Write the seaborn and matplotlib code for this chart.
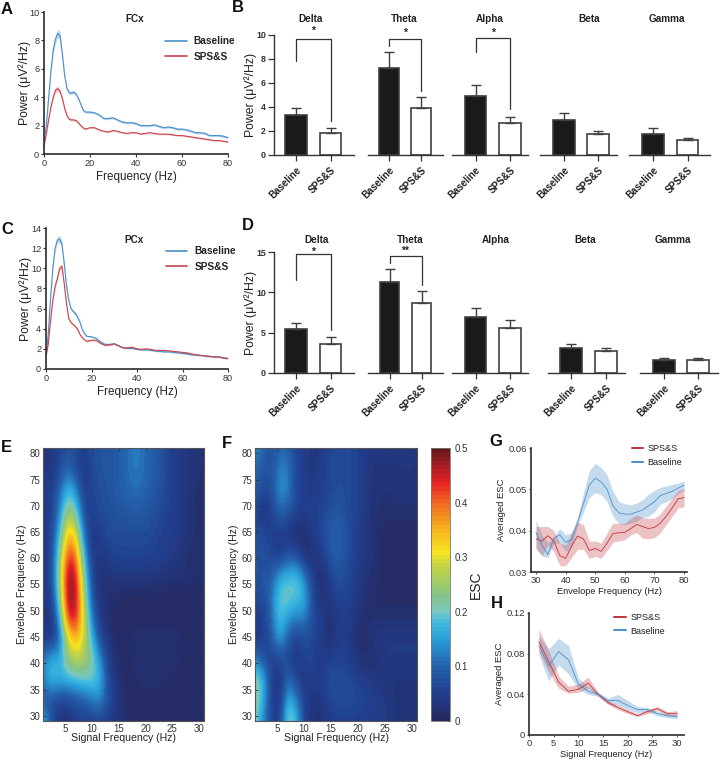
import matplotlib
matplotlib.use("Agg")
import matplotlib.pyplot as plt
from matplotlib.colors import LinearSegmentedColormap
import numpy as np
import pandas as pd
import seaborn as sns

sns.set_theme(style="ticks")
plt.rcParams["font.family"] = ["Liberation Sans", "DejaVu Sans"]
plt.rcParams["axes.edgecolor"] = "#333333"
plt.rcParams["text.color"] = "#222222"
plt.rcParams["xtick.color"] = "#333333"
plt.rcParams["ytick.color"] = "#333333"
plt.rcParams["axes.labelcolor"] = "#222222"

# ---------- data ----------
COND = ["Baseline", "SPS&S"]
BANDS = ["Delta", "Theta", "Alpha", "Beta", "Gamma"]

PSD_F = [0,1,2,3,4,5,6,7,8,9,10,11,12,13,14,15,16,17,18,20,22,24,26,28,30,32,34,36,38,40,42,44,46,48,50,52,54,56,58,60,62,64,66,68,70,72,74,76,78,80]
A_BASE = [0.9,2.0,3.9,5.8,7.3,8.1,8.5,8.3,7.0,5.5,4.6,4.3,4.3,4.35,4.2,3.9,3.5,3.1,2.95,2.95,2.9,2.75,2.5,2.5,2.55,2.4,2.25,2.2,2.2,2.15,2.0,2.0,2.0,2.05,1.95,1.85,1.9,1.85,1.75,1.75,1.7,1.6,1.5,1.5,1.45,1.3,1.3,1.3,1.25,1.15]
A_SPS = [0.55,1.4,2.4,3.3,4.0,4.5,4.6,4.4,3.9,3.2,2.7,2.45,2.4,2.4,2.35,2.2,2.0,1.85,1.75,1.85,1.85,1.7,1.6,1.55,1.65,1.6,1.5,1.45,1.5,1.5,1.4,1.45,1.5,1.45,1.4,1.4,1.4,1.35,1.3,1.3,1.25,1.2,1.15,1.1,1.05,1.0,.95,.95,.9,.85]
C_BASE = [1.3,3.5,7,10,12,12.8,12.9,12.4,10.5,8.3,6.8,6.0,5.7,5.5,5.1,4.6,3.9,3.5,3.25,3.2,3.05,2.7,2.45,2.45,2.5,2.3,2.1,2.05,2.05,1.95,1.9,1.9,1.85,1.8,1.75,1.7,1.7,1.65,1.6,1.55,1.5,1.4,1.4,1.35,1.3,1.25,1.2,1.2,1.1,1.05]
C_SPS = [1.2,2.5,4.8,6.8,8.2,9.0,10.0,10.2,8.5,6.5,5.0,4.6,4.4,4.2,3.9,3.4,3.1,2.9,2.75,2.85,2.85,2.55,2.35,2.4,2.5,2.3,2.1,2.1,2.15,2.0,1.95,2.0,1.95,1.85,1.85,1.85,1.8,1.75,1.7,1.65,1.6,1.5,1.4,1.35,1.3,1.25,1.2,1.2,1.1,1.05]
A_SEM_B = [.05,.1,.15,.2,.25,.3,.3,.28,.2,.15,.12,.12,.12,.12,.1,.1,.08,.08] + [.08] * 32
A_SEM_S = [.05,.08,.1,.12,.15,.18,.18,.15,.12,.1,.1,.08,.08,.08,.08,.07,.07,.07] + [.05] * 32
C_SEM_B = [.05,.1,.15,.2,.3,.35,.35,.3,.2,.2,.15,.15,.15,.15,.12,.1,.1,.08] + [.07] * 32
C_SEM_S = [.05,.1,.12,.15,.2,.2,.25,.25,.2,.15,.12,.12,.12,.1,.1,.08,.08,.08] + [.08] * 32

B_MEAN = [[3.35,1.85],[7.25,3.95],[4.9,2.7],[2.9,1.75],[1.75,1.25]]
B_TOP = [[3.9,2.25],[8.55,4.8],[5.8,3.2],[3.5,2.0],[2.25,1.4]]
D_MEAN = [[5.4,3.65],[11.3,8.65],[7.0,5.6],[3.1,2.75],[1.6,1.65]]
D_TOP = [[6.25,4.45],[12.85,10.15],[8.0,6.55],[3.55,3.15],[1.85,1.9]]

G_F = [30,32,34,36,38,40,42,44,46,48,50,52,54,56,58,60,62,64,66,68,70,72,74,76,78,80]
G_BASE = [.0395,.0365,.0342,.0382,.039,.0372,.0378,.042,.0465,.051,.0527,.0518,.05,.046,.0443,.044,.044,.0445,.045,.046,.047,.0485,.049,.0495,.0503,.051]
G_BASE_UP = [.0425,.039,.037,.0385,.0405,.039,.0395,.043,.049,.0545,.0563,.0553,.0535,.0495,.047,.0465,.0462,.0467,.0475,.0488,.0497,.0505,.0508,.0512,.0515,.052]
G_BASE_LO = [.036,.0338,.0335,.037,.037,.035,.036,.041,.0445,.048,.0492,.0487,.047,.0435,.0418,.0415,.0418,.0423,.0432,.0435,.0445,.0465,.047,.0478,.049,.0498]
G_SPS = [.038,.0375,.0388,.0375,.034,.0333,.0362,.0387,.038,.0352,.0357,.035,.037,.0393,.0395,.0396,.0405,.0415,.041,.0405,.0408,.0418,.0435,.0455,.0477,.048]
G_SPS_UP = [.041,.041,.041,.04,.037,.0365,.0395,.042,.0415,.0375,.0375,.037,.0395,.0418,.0418,.0418,.043,.0438,.0432,.043,.043,.0442,.046,.048,.0497,.0502]
G_SPS_LO = [.0355,.034,.0365,.035,.0315,.0315,.0335,.0355,.0355,.0333,.0338,.0333,.0352,.0372,.0375,.0378,.039,.0395,.0382,.038,.0383,.0395,.0415,.0435,.0455,.0458]

H_F = [2,4,6,8,10,12,14,16,18,20,22,24,26,28,30]
H_SPS = [.092,.072,.052,.043,.045,.051,.04,.032,.027,.023,.019,.023,.026,.021,.021]
H_SPS_UP = [.104,.083,.058,.048,.05,.057,.042,.034,.029,.025,.021,.025,.028,.023,.024]
H_SPS_LO = [.082,.062,.046,.041,.042,.046,.038,.03,.025,.021,.018,.021,.024,.019,.019]
H_BASE = [.088,.068,.082,.074,.05,.043,.04,.034,.034,.029,.025,.025,.021,.019,.018]
H_BASE_UP = [.097,.085,.095,.088,.056,.047,.042,.036,.04,.034,.028,.027,.023,.021,.02]
H_BASE_LO = [.079,.053,.069,.06,.045,.04,.038,.031,.029,.025,.022,.023,.019,.017,.016]

# rows run from 81 Hz down to 29 Hz, columns from 1 Hz to 31 Hz
E_ESC = [
 [.04,.03,.06,.08,.07,.05,.07,.08,.08,.09,.10,.12,.12,.10,.09,.07,.05,.04,.03,.03,.02],
 [.04,.03,.07,.10,.07,.03,.06,.08,.08,.09,.10,.12,.12,.10,.09,.07,.05,.04,.03,.03,.02],
 [.04,.05,.10,.18,.14,.05,.06,.07,.08,.09,.10,.11,.11,.10,.08,.07,.05,.04,.03,.02,.02],
 [.04,.05,.13,.25,.21,.07,.05,.07,.07,.08,.08,.09,.09,.08,.07,.06,.05,.04,.03,.02,.02],
 [.04,.06,.17,.34,.31,.11,.03,.05,.07,.07,.07,.07,.07,.07,.06,.05,.05,.04,.03,.02,.02],
 [.04,.06,.22,.42,.40,.17,.04,.04,.05,.06,.06,.06,.06,.06,.05,.05,.04,.03,.02,.02,.02],
 [.04,.06,.25,.48,.46,.23,.06,.02,.03,.04,.04,.04,.04,.04,.04,.03,.03,.03,.02,.02,.02],
 [.04,.05,.22,.49,.48,.27,.08,.03,.02,.02,.01,.01,.01,.01,.01,.01,.01,.01,.01,.01,.01],
 [.03,.03,.16,.45,.46,.30,.12,.04,.02,.01,.01,.01,.01,.01,.01,.01,.01,.01,.01,.01,.01],
 [.04,.03,.09,.30,.37,.29,.17,.07,.03,.01,.01,.02,.02,.02,.02,.02,.02,.02,.01,.01,.01],
 [.12,.17,.16,.24,.28,.27,.22,.14,.05,.02,.01,.02,.02,.02,.02,.02,.02,.02,.01,.01,.01],
 [.13,.19,.17,.18,.19,.20,.20,.18,.07,.03,.01,.01,.02,.02,.02,.02,.01,.01,.01,.01,.01],
 [.08,.07,.06,.06,.08,.09,.12,.14,.08,.04,.02,.01,.01,.01,.01,.01,.01,.01,.01,.01,.01],
 [.18,.08,.03,.02,.05,.05,.05,.05,.05,.03,.02,.01,.01,.01,.01,.01,.01,.01,.01,.01,.01],
]
F_ESC = [
 [.14,.10,.07,.10,.10,.06,.05,.03,.04,.06,.07,.07,.06,.05,.04,.03,.04,.03,.04,.04,.03],
 [.11,.08,.08,.13,.12,.06,.05,.03,.05,.06,.07,.07,.06,.05,.03,.03,.03,.03,.03,.03,.03],
 [.09,.07,.07,.15,.13,.06,.05,.04,.05,.06,.07,.07,.06,.05,.03,.03,.02,.03,.03,.03,.03],
 [.07,.015,.06,.10,.09,.06,.05,.05,.06,.07,.09,.07,.06,.05,.03,.02,.02,.02,.02,.02,.02],
 [.07,.07,.05,.05,.04,.012,.02,.05,.06,.09,.10,.08,.06,.04,.03,.02,.01,.01,.01,.01,.01],
 [.08,.07,.06,.03,.07,.06,.02,.02,.05,.08,.10,.08,.06,.04,.03,.02,.01,.01,.01,.01,.01],
 [.08,.08,.09,.15,.17,.18,.12,.05,.01,.05,.08,.07,.05,.04,.02,.02,.01,.01,.01,.01,.01],
 [.07,.07,.12,.20,.21,.20,.17,.07,.02,.04,.06,.06,.05,.03,.02,.01,.01,.01,.01,.01,.01],
 [.05,.05,.11,.20,.15,.13,.14,.07,.05,.02,.04,.05,.04,.02,.02,.02,.02,.02,.02,.02,.02],
 [.04,.05,.09,.17,.09,.06,.07,.06,.05,.015,.04,.05,.03,.012,.03,.04,.04,.04,.04,.04,.04],
 [.12,.07,.05,.07,.06,.03,.06,.06,.04,.05,.06,.05,.04,.02,.02,.03,.04,.04,.04,.04,.04],
 [.23,.17,.05,.03,.11,.06,.03,.05,.04,.07,.07,.07,.06,.05,.04,.03,.03,.03,.03,.03,.03],
 [.23,.16,.05,.03,.18,.13,.05,.03,.04,.06,.07,.07,.07,.06,.06,.05,.04,.03,.03,.03,.03],
 [.21,.13,.05,.05,.23,.18,.06,.03,.02,.04,.05,.05,.05,.05,.04,.04,.04,.03,.03,.03,.03],
]

# ---------- layout helpers ----------
W, H = 723, 760
fig = plt.figure(figsize=(W / 100, H / 100), dpi=100, facecolor="white")

def px_axes(l, t, r, b):
    return fig.add_axes([l / W, 1 - b / H, (r - l) / W, (b - t) / H])

def px_text(x, y, s, **kw):
    kw.setdefault("ha", "center")
    kw.setdefault("va", "center")
    fig.text(x / W, 1 - y / H, s, **kw)

BLUE, RED = "#4a8fcb", "#c8434b"
BLUE_B, RED_B = "#a9cbe8", "#eab0b4"
LBL = 8.8
TK = 6.6

for s, x, y in [("A", 7, 9), ("B", 238, 8), ("C", 7, 230), ("D", 248, 226),
                ("E", 6, 447), ("F", 227, 443), ("G", 496, 441), ("H", 497, 603)]:
    px_text(x, y, s, fontsize=12, fontweight="bold", color="#111111")

# ---------- PSD panels ----------
def psd_panel(box, base, sps, sem_b, sem_s, ymax, yticks, title, title_xy, leg_anchor, ylabelpad):
    ax = px_axes(*box)
    df = pd.DataFrame({"Frequency": PSD_F * 2, "Power": base + sps,
                       "Group": [COND[0]] * len(base) + [COND[1]] * len(sps)})
    ax.fill_between(PSD_F, np.array(base) - sem_b, np.array(base) + sem_b, color=BLUE_B, lw=0, alpha=.75)
    ax.fill_between(PSD_F, np.array(sps) - sem_s, np.array(sps) + sem_s, color=RED_B, lw=0, alpha=.75)
    sns.lineplot(data=df, x="Frequency", y="Power", hue="Group", palette=[BLUE, RED],
                 errorbar=None, estimator=None, lw=.8, ax=ax)
    ax.set_xlim(0, 80)
    ax.set_ylim(0, ymax)
    ax.set_xticks([0, 20, 40, 60, 80])
    ax.set_yticks(yticks)
    ax.tick_params(labelsize=TK, length=2, width=.8, pad=1.5)
    ax.set_xlabel("Frequency (Hz)", fontsize=8.4, labelpad=2.5)
    ax.set_ylabel("Power (μV²/Hz)", fontsize=LBL, labelpad=ylabelpad)
    sns.despine(ax=ax)
    leg = ax.legend(loc="upper left", bbox_to_anchor=leg_anchor, frameon=False, fontsize=7.3,
                    handlelength=2.1, handletextpad=.7, labelspacing=.55, borderpad=0, borderaxespad=0)
    for t in leg.get_texts():
        t.set_fontweight("bold")
    for line in leg.get_lines():
        line.set_linewidth(1.2)
    px_text(*title_xy, title, fontsize=7.2, fontweight="bold")

psd_panel((44, 12, 228, 154), A_BASE, A_SPS, np.array(A_SEM_B), np.array(A_SEM_S), 10,
          [0, 2, 4, 6, 8, 10], "FCx", (135, 19), (.66, .83), -1.5)
psd_panel((46, 228, 228, 369), C_BASE, C_SPS, np.array(C_SEM_B), np.array(C_SEM_S), 14,
          [0, 2, 4, 6, 8, 10, 12, 14], "PCx", (134, 240), (.66, .87), -.5)

# ---------- bar panels ----------
def bar_group(left, right, c0, c1, top, bottom, ymax, yticks, mean, upper, title, title_xy, first, bracket, star):
    ax = px_axes(left, top, right, bottom)
    df = pd.DataFrame({"Group": COND, "Power": mean})
    sns.barplot(data=df, x="Group", y="Power", hue="Group", palette=["#1a1a18", "white"],
                edgecolor="#3f3f3f", linewidth=1.2, width=.62, errorbar=None, legend=False, ax=ax)
    ax.errorbar([0, 1], mean, yerr=[[0, 0], np.array(upper) - np.array(mean)], fmt="none",
                ecolor="#3f3f3f", elinewidth=1.0, capsize=3.6, capthick=1.0, zorder=1)
    unit = c1 - c0
    ax.set_xlim((left - c0) / unit, (right - c0) / unit)
    ax.set_ylim(0, ymax)
    ax.set_xlabel("")
    ax.set_xticks([0, 1])
    ax.set_xticklabels(COND, rotation=45, ha="right", rotation_mode="anchor", fontsize=7.0, fontweight="bold", color="#222222")
    ax.tick_params(axis="x", length=4, width=.9, pad=3)
    if first:
        ax.set_yticks(yticks)
        ax.tick_params(axis="y", length=4.3, width=.9, labelsize=6.4, pad=1.5)
        for t in ax.get_yticklabels():
            t.set_fontweight("bold")
        ax.set_ylabel("Power (μV²/Hz)", fontsize=LBL, labelpad=-1)
        sns.despine(ax=ax)
    else:
        ax.set_yticks([])
        ax.set_ylabel("")
        sns.despine(ax=ax, left=True)
    for sp in ax.spines.values():
        sp.set_linewidth(1.0)
    if bracket:
        yt, yl, yr = bracket
        ax.plot([0, 0, 1, 1], [yl, yt, yt, yr], color="#333333", lw=.9, clip_on=False, zorder=3)
        ax.text(.5, yt + (star[0] if star else 0), star[1], ha="center", va="center", fontsize=7.5, fontweight="bold", clip_on=False)
    px_text(*title_xy, title, fontsize=7.2, fontweight="bold")

B_GEOM = [(274, 354, 296, 330.5), (368, 443, 389, 421), (452, 528, 475.5, 510), (540, 617, 564, 598), (629, 710, 653, 687.5)]
B_TITLE = [(311, 19), (404, 19), (490, 19), (589, 19), (667, 19)]
B_BRACKET = [(9.64, 7.84, 2.8), (9.64, 9.09, 5.37), (9.78, 8.6, 3.8), None, None]
B_STAR = [(.72, "*"), (.55, "*"), (.4, "*"), None, None]
for i, b in enumerate(BANDS):
    bar_group(*B_GEOM[i], 35, 155, 10, [0, 2, 4, 6, 8, 10], B_MEAN[i], B_TOP[i], b, B_TITLE[i], i == 0, B_BRACKET[i], B_STAR[i])

D_GEOM = [(274, 354, 296, 330.5), (368, 443, 389.5, 421.5), (452, 528, 475.5, 510), (548, 625, 571, 606), (640, 718, 664, 698)]
D_TITLE = [(317, 240), (410, 240), (496, 240), (585, 240), (673, 240)]
D_BRACKET = [(14.7, 11.55, 5.3), (14.54, 13.6, 10.9), None, None, None]
D_STAR = [(.35, "*"), (.55, "**"), None, None, None]
for i, b in enumerate(BANDS):
    bar_group(*D_GEOM[i], 252, 373, 15, [0, 5, 10, 15], D_MEAN[i], D_TOP[i], b, D_TITLE[i], i == 0, D_BRACKET[i], D_STAR[i])

# ---------- comodulograms ----------
cmap = LinearSegmentedColormap.from_list("esc", [
    (0.00, "#26295f"), (0.05, "#23347a"), (0.10, "#20408f"), (0.20, "#2463ad"), (0.30, "#2aa0d9"),
    (0.36, "#41bbe0"), (0.40, "#7cc8bd"), (0.46, "#85c487"), (0.58, "#cdd63c"), (0.62, "#f7e41e"),
    (0.72, "#f6aa1e"), (0.82, "#ef5a24"), (0.88, "#e61e25"), (0.94, "#a81f24"), (1.00, "#66191a")], N=64)

def comod(box, values):
    ax = px_axes(*box)
    im = ax.imshow(values, cmap=cmap, vmin=0, vmax=.5, aspect="auto", interpolation="bicubic",
                   extent=[.25, 31.75, 27, 83], origin="upper")
    ax.set_xlim(.9, 30.9)
    ax.set_ylim(29, 81)
    ax.set_xticks([5, 10, 15, 20, 25, 30])
    ax.set_yticks([30, 35, 40, 45, 50, 55, 60, 65, 70, 75, 80])
    ax.tick_params(direction="in", length=2.5, width=.6, labelsize=7, pad=2, top=True, right=True)
    ax.set_xlabel("Signal Frequency (Hz)", fontsize=7.6, labelpad=-.5)
    ax.set_ylabel("Envelope Frequency (Hz)", fontsize=7.6, labelpad=1.5)
    for sp in ax.spines.values():
        sp.set_linewidth(.8)
        sp.set_color("#555555")
    return im

comod((43, 448, 204, 721), E_ESC)
im = comod((255, 448, 417, 721), F_ESC)
cax = px_axes(431, 448, 450, 721)
cb = fig.colorbar(im, cax=cax, ticks=[0, .1, .2, .3, .4, .5])
cb.ax.set_yticklabels(["0", "0.1", "0.2", "0.3", "0.4", "0.5"])
cb.ax.tick_params(direction="in", length=2.5, width=.6, labelsize=7, pad=3)
cb.outline.set_linewidth(.6)
cb.outline.set_edgecolor("#777777")
cb.set_label("ESC", fontsize=10, labelpad=1)

# ---------- averaged ESC ----------
def esc_panel(box, x, sps, sps_up, sps_lo, base, base_up, base_lo, xlim, ylim, xticks, yticks, ylabels, xlabel, leg_anchor):
    ax = px_axes(*box)
    df = pd.DataFrame({"x": list(x) * 2, "y": sps + base, "Group": ["SPS&S"] * len(x) + ["Baseline"] * len(x)})
    ax.fill_between(x, base_lo, base_up, color="#4a8fcb", alpha=.32, lw=0)
    ax.fill_between(x, sps_lo, sps_up, color="#c8434b", alpha=.32, lw=0)
    sns.lineplot(data=df, x="x", y="y", hue="Group", palette=["#c0343c", "#4a8fcb"],
                 errorbar=None, estimator=None, lw=.6, ax=ax)
    ax.set_xlim(*xlim)
    ax.set_ylim(*ylim)
    ax.set_xticks(xticks)
    ax.set_yticks(yticks)
    ax.set_yticklabels(ylabels)
    ax.tick_params(labelsize=6.8, length=1.5, width=.6, pad=1.5)
    ax.set_xlabel(xlabel, fontsize=6.7, labelpad=1.5)
    ax.set_ylabel("Averaged ESC", fontsize=6.8, labelpad=2)
    sns.despine(ax=ax)
    leg = ax.legend(loc="upper left", bbox_to_anchor=leg_anchor, frameon=False, fontsize=6.5,
                    handlelength=1.25, handletextpad=.5, labelspacing=.5, borderpad=0, borderaxespad=0)
    for line in leg.get_lines():
        line.set_linewidth(1.4)

esc_panel((531, 448, 687, 572), G_F, G_SPS, G_SPS_UP, G_SPS_LO, G_BASE, G_BASE_UP, G_BASE_LO,
          (28.3, 81), (.03, .06), [30, 40, 50, 60, 70, 80], [.03, .04, .05, .06],
          ["0.03", "0.04", "0.05", "0.06"], "Envelope Frequency (Hz)", (.645, 1.03))
esc_panel((529, 613, 684, 735), H_F, H_SPS, H_SPS_UP, H_SPS_LO, H_BASE, H_BASE_UP, H_BASE_LO,
          (0, 31.4), (0, .12), [0, 5, 10, 15, 20, 25, 30], [0, .04, .08, .12],
          ["0", "0.04", "0.08", "0.12"], "Signal Frequency (Hz)", (.55, 1.0))

fig.savefig("out.png", dpi=100)
